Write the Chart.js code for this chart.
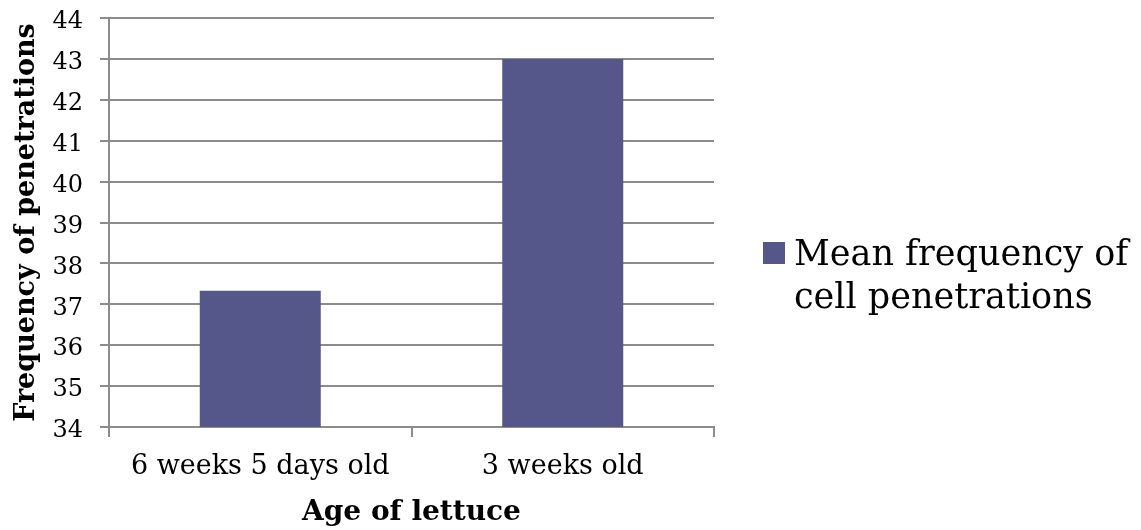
<!DOCTYPE html>
<html>
<head>
<meta charset="utf-8">
<script src="https://cdn.jsdelivr.net/npm/chart.js@4/dist/chart.umd.min.js"></script>
<style>
  html, body { margin: 0; padding: 0; background: #ffffff; }
  #wrap { width: 1141px; height: 530px; }
</style>
</head>
<body>
<div id="wrap"><canvas id="c" width="1141" height="530"></canvas></div>
<script>
const categories = ['6 weeks 5 days old', '3 weeks old'];
const meanPenetrations = [37.33, 43];
const seriesName = 'Mean frequency of cell penetrations';
const legendLines = ['Mean frequency of', 'cell penetrations'];
const yMin = 34, yMax = 44, yStep = 1;

const FONT = '"DejaVu Serif", "Liberation Serif", serif';
const BAR = '#55568a';
const GRID = '#8c8c8c';

// Two-line legend to the right of the plot
const sideLegend = {
  id: 'sideLegend',
  afterDraw(chart) {
    const ctx = chart.ctx;
    const a = chart.chartArea;
    const x0 = a.right + 49;
    const y0 = a.top + 224;
    ctx.save();
    ctx.fillStyle = chart.data.datasets[0].backgroundColor;
    ctx.fillRect(x0, y0, 22, 22);
    ctx.fillStyle = '#000';
    ctx.font = '35px ' + FONT;
    ctx.textBaseline = 'alphabetic';
    ctx.textAlign = 'left';
    legendLines.forEach((t, i) => ctx.fillText(t, x0 + 31, y0 + 23 + i * 43));
    ctx.restore();
  }
};

new Chart(document.getElementById('c'), {
  type: 'bar',
  data: {
    labels: categories,
    datasets: [{
      label: seriesName,
      data: meanPenetrations,
      backgroundColor: BAR,
      borderWidth: 0,
      barPercentage: 0.4,
      categoryPercentage: 1.0
    }]
  },
  options: {
    responsive: false,
    animation: false,
    layout: { padding: { top: 18, right: 427, left: 0, bottom: 0 } },
    plugins: {
      legend: { display: false },
      tooltip: { enabled: false }
    },
    scales: {
      x: {
        afterFit(s) { s.height = 103; s.paddingLeft = 0; s.paddingRight = 0; },
        grid: {
          drawOnChartArea: false,
          drawTicks: true,
          tickLength: 10,
          color: GRID,
          lineWidth: 2,
          offset: true
        },
        border: { color: GRID, width: 2 },
        ticks: {
          color: '#000',
          font: { family: FONT, size: 27 },
          padding: 14,
          maxRotation: 0
        },
        title: {
          display: true,
          text: 'Age of lettuce',
          color: '#000',
          font: { family: FONT, size: 28, weight: 'bold' },
          padding: { top: 0, bottom: 0 }
        }
      },
      y: {
        min: yMin,
        max: yMax,
        afterFit(s) { s.width = 109; s.paddingTop = 0; s.paddingBottom = 0; },
        grid: {
          color: GRID,
          tickLength: 9,
          lineWidth: 2
        },
        border: { color: GRID, width: 2 },
        ticks: {
          stepSize: yStep,
          color: '#000',
          font: { family: FONT, size: 24 },
          padding: 17,
          labelOffset: 4
        },
        title: {
          display: true,
          text: 'Frequency of penetrations',
          color: '#000',
          font: { family: FONT, size: 27, weight: 'bold' },
          padding: { top: 11, bottom: 0 }
        }
      }
    }
  },
  plugins: [sideLegend]
});
</script>
</body>
</html>
